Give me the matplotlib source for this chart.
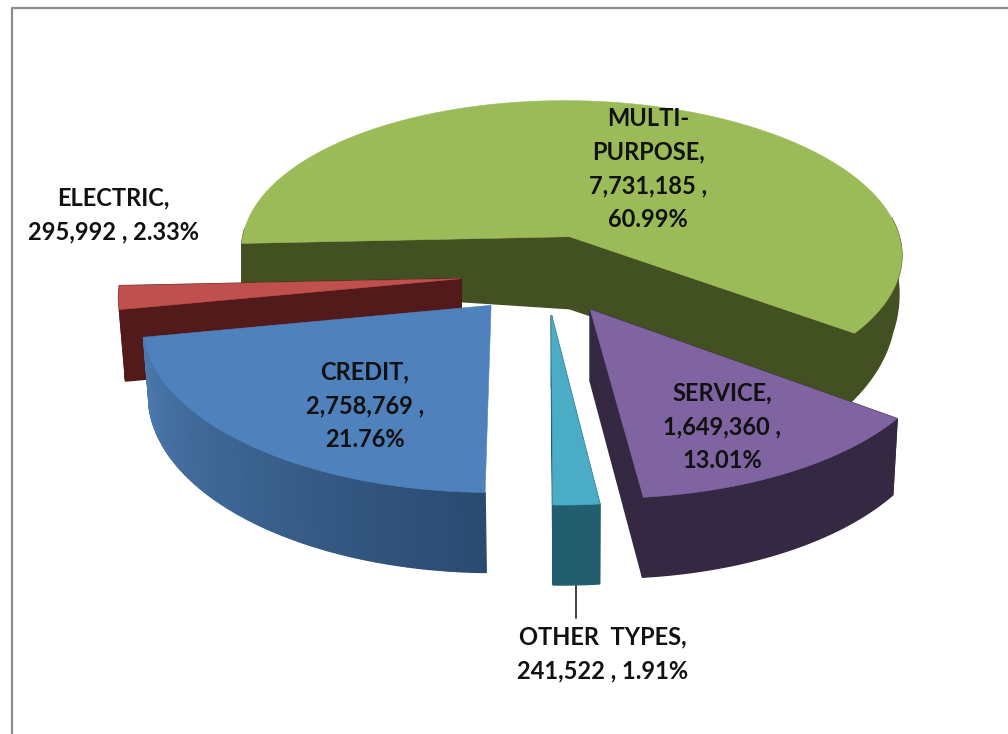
import numpy as np
import matplotlib
matplotlib.use('Agg')
import matplotlib.pyplot as plt
from matplotlib.colors import to_rgb

# data, clockwise from the 9 o'clock position
names = ['MULTI-\nPURPOSE', 'SERVICE', 'OTHER  TYPES', 'CREDIT', 'ELECTRIC']
members = [7731185, 1649360, 241522, 2758769, 295992]
percents = ['60.99%', '13.01%', '1.91%', '21.76%', '2.33%']
label_seps = [' ,\n', ' ,\n', ' , ', ' ,\n', ' , ']

# styles
top_col = ['#9BBB59', '#8064A2', '#4BACC6', '#4F81BD', '#C0504D']
side_a = ['#425022', '#352842', '#235E6E', '#2A4A70', '#521A1A']
side_b = ['#425022', '#352842', '#235E6E', '#4C79AE', '#521A1A']
label_xy = [(648, 169), (722, 427), (603, 654), (365, 406), (113, 215)]
radius = [0.985, 1, 1, 1, 1]

# projection of the pie plane onto the picture (fitted by eye)
CX, CY = 546, 274
AX, SX, BY, TILT, PERSP = 341, 20, 160, 7, 0.107
EXPLODE = 0.25


def project(X, Y):
    w = 1 + PERSP * Y
    return CX + (AX * X - SX * Y) / w, CY + (-BY * Y - TILT * X) / w


def rim_height(i, th):
    s = np.sin(th)
    if i == 0:
        # green back part looks thinner in the original
        return np.where(s >= 0, 44, 44 + 26 * np.minimum(-s / 0.637, 1))
    return 70 - 10 * s


def rim_shift(i, th, X):
    if i == 0:
        return 6 * X * np.clip(-np.sin(th) / 0.3, 0, 1)
    return 5 * X


fig = plt.figure(figsize=(10.08, 7.34), dpi=100)
ax = fig.add_axes([0, 0, 1, 1])
ax.set_xlim(0, 1008)
ax.set_ylim(734, 0)
ax.axis('off')

# chart frame
ax.plot([11.5, 11.5, 1008], [734, 7.5, 7.5], color='#8c8c8c', lw=1.6, zorder=1)

fracs = np.array(members) / sum(members)
edges = np.pi - 2 * np.pi * np.concatenate([[0], np.cumsum(fracs)])
draw_order = [0, 4, 3, 2, 1]

z = 2
for i in draw_order:
    t0, t1 = edges[i], edges[i + 1]
    mid = (t0 + t1) / 2
    ox, oy = EXPLODE * np.cos(mid), EXPLODE * np.sin(mid)
    th = np.linspace(t0, t1, 160)
    X = ox + radius[i] * np.cos(th)
    Y = oy + radius[i] * np.sin(th)
    u, v = project(X, Y)
    au, av = project(ox, oy)
    h = rim_height(i, th)
    ub = u - rim_shift(i, th, X)
    vb = v + h
    ah = 72

    # cut faces, the credit ones are hidden
    if i != 3:
        ax.fill([au, u[0], ub[0], au], [av, v[0], vb[0], av + ah], color=side_b[i], lw=1, zorder=z)
        ax.fill([au, u[-1], ub[-1], au], [av, v[-1], vb[-1], av + ah], color=side_b[i], lw=1, zorder=z)

    # outer side, only credit has a visible shading along the rim
    if i == 3:
        ca, cb = np.array(to_rgb(side_a[i])), np.array(to_rgb(side_b[i]))
        for k in range(len(th) - 1):
            c = ca + (cb - ca) * k / (len(th) - 2)
            ax.fill([u[k], u[k + 1], ub[k + 1], ub[k]], [v[k], v[k + 1], vb[k + 1], vb[k]],
                    color=c, lw=1, zorder=z)
    else:
        vis = np.sin(th) < 0.1
        ax.fill(np.r_[u[vis], ub[vis][::-1]], np.r_[v[vis], vb[vis][::-1]], color=side_a[i], lw=1, zorder=z)

    # top of the slice
    ax.fill(np.r_[au, u], np.r_[av, v], color=top_col[i], lw=0.4, zorder=z + 1)
    z += 2

# leader line of the small slice
ax.plot([576, 576], [586, 618], color='#111111', lw=1.1, zorder=30)

for i in range(len(names)):
    txt = names[i] + ',\n' + format(members[i], ',') + label_seps[i] + percents[i]
    ax.text(label_xy[i][0], label_xy[i][1], txt, ha='center', va='center', family='Lato',
            fontweight='bold', fontsize=17, color='#111111', linespacing=1.56, zorder=31)

fig.savefig('out.png', dpi=100, facecolor='white')
